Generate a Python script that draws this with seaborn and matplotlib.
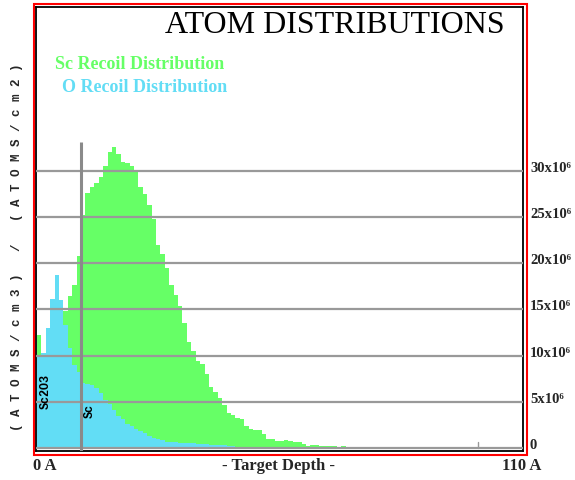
import numpy as np
import pandas as pd
import matplotlib
matplotlib.use("Agg")
import matplotlib.pyplot as plt
from matplotlib.patches import Rectangle
import seaborn as sns

# ---------------- data ----------------
BIN_WIDTH = 1.0  # Angstrom
sc_recoil = [12.2, 10.0, 11.0, 11.3, 11.6, 13.0, 14.8, 16.5, 17.6, 20.8,
             25.2, 27.6, 28.2, 28.7, 29.3, 30.5, 32.0, 32.6, 31.8, 30.9,
             30.8, 30.5, 30.0, 28.2, 27.5, 26.3, 24.8, 22.0, 21.0, 19.5,
             17.6, 16.6, 15.4, 13.5, 11.5, 10.5, 9.4, 9.1, 8.0, 6.6,
             6.1, 5.4, 4.7, 3.8, 3.6, 3.3, 3.1, 2.4, 2.1, 2.0,
             1.9, 1.5, 1.0, 0.95, 0.8, 0.8, 0.85, 0.8, 0.65, 0.6,
             0.45, 0.2, 0.3, 0.3, 0.25, 0.18, 0.18, 0.18, 0.1, 0.2,
             0.15]
o_recoil = [10.0, 10.3, 13.0, 16.1, 18.7, 16.0, 13.3, 10.8, 9.0, 8.2,
            7.0, 6.9, 6.8, 6.5, 6.0, 5.2, 4.8, 4.1, 3.5, 3.1,
            2.6, 2.4, 2.1, 1.8, 1.6, 1.3, 1.1, 1.0, 0.9, 0.7,
            0.65, 0.6, 0.55, 0.55, 0.5, 0.5, 0.45, 0.4, 0.4, 0.35,
            0.35, 0.3, 0.3, 0.25, 0.2, 0.15, 0.15, 0.1]
y_ticks = [0, 5, 10, 15, 20, 25, 30]
y_tick_labels = ["0", "5x10\u2076", "10x10\u2076", "15x10\u2076", "20x10\u2076",
                 "25x10\u2076", "30x10\u2076"]
x_min, x_max = 0, 110
layer_boundary = 10.0
layer_names = ["Sc2O3", "Sc"]
series_names = ["Sc Recoil Distribution", "O Recoil Distribution"]

GREEN = "#66FF66"
BLUE = "#62DDF5"
GRID = "#999999"

def to_frame(vals):
    centers = (np.arange(len(vals)) + 0.5) * BIN_WIDTH
    return pd.DataFrame({"depth": centers, "value": vals})

df_sc = to_frame(sc_recoil)
df_o = to_frame(o_recoil)

# ---------------- figure ----------------
sns.set_theme(style="white")
plt.rcParams["font.family"] = ["Liberation Serif", "DejaVu Serif"]

W, H = 575, 481
fig = plt.figure(figsize=(W / 100, H / 100), dpi=100)
fig.patch.set_facecolor("white")

ax_l, ax_r, ax_t, ax_b = 36, 523, 8, 452
ax = fig.add_axes([ax_l / W, (H - ax_b) / H, (ax_r - ax_l) / W, (ax_b - ax_t) / H])

sns.histplot(data=df_sc, x="depth", weights="value", binwidth=BIN_WIDTH,
             binrange=(0, len(sc_recoil) * BIN_WIDTH), element="step",
             fill=True, color=GREEN, alpha=1, linewidth=0, ax=ax, zorder=1)
sns.histplot(data=df_o, x="depth", weights="value", binwidth=BIN_WIDTH,
             binrange=(0, len(o_recoil) * BIN_WIDTH), element="step",
             fill=True, color=BLUE, alpha=1, linewidth=0, ax=ax, zorder=2)

# scale: 0 A at px 37, 110 A at px 522 ; 0 at px 449, 5 units per 46.2 px
px_per_A = (522 - 37) / (x_max - x_min)
px_per_unit = 46.2 / 5
ax.set_xlim(x_min - (37 - ax_l) / px_per_A, x_max + (ax_r - 522) / px_per_A)
ax.set_ylim(-(ax_b - 449) / px_per_unit, (449 - ax_t) / px_per_unit)

# horizontal grid in front of the fills
for t in y_ticks:
    ax.axhline(t, color=GRID, lw=1.6, zorder=3)
# layer boundary line
ax.plot([layer_boundary, layer_boundary], [ax.get_ylim()[0], 33.1], color="#8a8a8a",
        lw=2.2, zorder=4, solid_capstyle="butt")
# small tick at 100 A
ax.plot([100, 100], [0, 0.7], color="#999999", lw=1, zorder=4)

ax.set_xlabel("")
ax.set_ylabel("")
ax.set_xticks([])
ax.yaxis.tick_right()
ax.set_yticks(y_ticks)
ax.set_yticklabels(y_tick_labels, fontweight="bold", fontsize=10.5,
                   family=["Liberation Serif", "DejaVu Serif"])
for lab in ax.get_yticklabels():
    lab.set_verticalalignment("baseline")
ax.tick_params(axis="y", length=0, pad=5)
ax.grid(False)
for s in ax.spines.values():
    s.set_color("black")
    s.set_linewidth(1.3)

# layer labels
ax.text(1.9, 6.2, layer_names[0], rotation=90, ha="center", va="center",
        fontsize=8.5, fontweight="bold", family=["Liberation Mono", "DejaVu Sans Mono"],
        color="black", zorder=5)
ax.text(12.0, 4.1, layer_names[1], rotation=90, ha="center", va="center",
        fontsize=8.5, fontweight="bold", family=["Liberation Mono", "DejaVu Sans Mono"],
        color="black", zorder=5)

# red outer frame
fig.patches.append(Rectangle((33.5 / W, (H - 455.5) / H), (526.5 - 33.5) / W,
                             (455.5 - 4.5) / H, transform=fig.transFigure,
                             fill=False, edgecolor="red", lw=1.5, zorder=0))

def fx(px):
    return px / W

def fy(py):
    return (H - py) / H

# title
fig.text(fx(335), fy(33), "ATOM DISTRIBUTIONS", ha="center", va="baseline",
         fontsize=23, color="black")
# legend texts
fig.text(fx(55), fy(65), series_names[0], ha="left", va="center", fontsize=13,
         fontweight="bold", color=GREEN)
fig.text(fx(62), fy(88), series_names[1], ha="left", va="center", fontsize=13,
         fontweight="bold", color=BLUE)
# x labels
fig.text(fx(33), fy(466), f"{x_min} A", ha="left", va="center", fontsize=12, fontweight="bold")
fig.text(fx(278), fy(466), "- Target Depth -", ha="center", va="center", fontsize=12,
         fontweight="bold")
fig.text(fx(522), fy(466), f"{x_max} A", ha="center", va="center", fontsize=12,
         fontweight="bold")
# y label
ylabel = "( A T O M S / c m 3 )   /   ( A T O M S / c m 2 )"
fig.text(fx(17), fy(247), ylabel, rotation=90, ha="center", va="center", fontsize=9,
         fontweight="bold", family=["Liberation Mono", "DejaVu Sans Mono"])

fig.savefig("out.png", dpi=100, facecolor="white")
